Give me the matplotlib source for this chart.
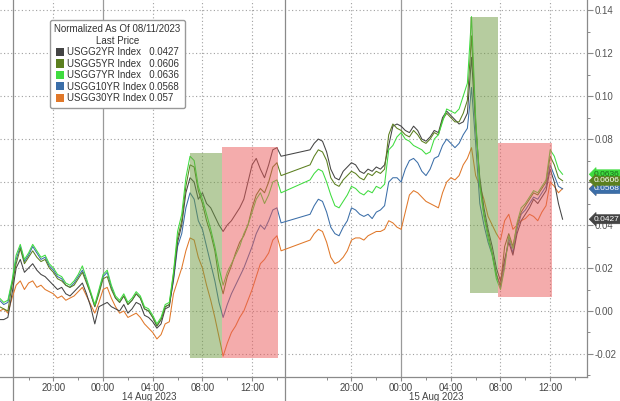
import matplotlib
matplotlib.use("Agg")
import matplotlib.pyplot as plt
import matplotlib.dates as mdates
import matplotlib.transforms as mtransforms
from matplotlib.patches import Patch
from matplotlib.ticker import MultipleLocator, FixedLocator
import pandas as pd

plt.rcParams['font.family'] = ['Liberation Sans', 'DejaVu Sans']

# ---------------- data ----------------
series_names = ["USGG2YR Index", "USGG5YR Index", "USGG7YR Index",
                "USGG10YR Index", "USGG30YR Index"]
last_prices = ["0.0427", "0.0606", "0.0636", "0.0568", "0.057"]
last_values = [0.0427, 0.0606, 0.0636, 0.0568, 0.057]
line_colors = ['#444444', '#5b7f1f', '#3fdc3f', '#3b6ea8', '#e0782a']

# two sessions, 20-minute samples
day1_start, day1_end = "2023-08-13 15:40", "2023-08-14 14:20"
day2_start, day2_end = "2023-08-14 16:40", "2023-08-15 13:00"

# values in thousandths of the normalized change
usgg2_day1 = [-4, -4, -3, 8, 20, 24, 18, 20, 22, 19,
              17, 16, 14, 12, 10, 11, 8, 7, 9, 11,
              13, 8, 2, -6, 2, 3, 4, 2, 1, 0,
              3, -1, 1, 4, 3, -2, -3, -5, -8, -6,
              1, 2, 15, 32, 40, 55, 62, 60, 52, 55,
              50, 48, 44, 40, 37, 40, 42, 45, 48, 52,
              60, 68, 71, 66, 62, 68, 75, 76, 72]
usgg5_day1 = [2, 1, 0, 12, 22, 29, 22, 25, 28, 25,
              23, 24, 20, 18, 15, 14, 12, 11, 12, 15,
              18, 13, 8, 2, 8, 15, 16, 10, 6, 4,
              7, 3, 5, 8, 6, 1, 0, -3, -7, -4,
              2, 3, 17, 34, 42, 58, 68, 67, 56, 50,
              42, 36, 28, 15, 8, 16, 21, 27, 32, 35,
              40, 48, 54, 57, 55, 60, 67, 69, 63]
usgg7_day1 = [6, 4, 5, 14, 26, 31, 24, 27, 31, 28,
              25, 26, 22, 20, 17, 16, 13, 12, 14, 17,
              21, 15, 9, 3, 10, 17, 19, 12, 7, 5,
              8, 4, 6, 9, 7, 2, 1, -2, -6, -3,
              3, 4, 18, 37, 45, 62, 72, 70, 58, 52,
              45, 38, 30, 20, 12, 18, 22, 26, 30, 36,
              40, 46, 52, 55, 50, 54, 60, 61, 55]
usgg10_day1 = [5, 3, 4, 13, 24, 30, 23, 26, 30, 27,
               24, 25, 21, 19, 16, 15, 12, 11, 13, 16,
               19, 14, 8, 2, 9, 16, 18, 11, 6, 4,
               7, 3, 5, 8, 6, 1, 0, -3, -7, -4,
               2, 3, 14, 30, 36, 48, 55, 52, 42, 38,
               30, 22, 14, 4, -3, 3, 8, 12, 16, 20,
               25, 30, 36, 40, 38, 42, 47, 48, 41]
usgg30_day1 = [0, 1, -1, 6, 12, 14, 10, 13, 14, 11,
               12, 10, 9, 8, 6, 7, 5, 6, 7, 9,
               11, 7, 3, -1, 4, 10, 11, 6, 2, -1,
               0, -3, -2, -1, -3, -6, -8, -10, -13, -11,
               -6, -5, 8, 14, 20, 28, 34, 33, 25, 20,
               12, 5, -3, -12, -21, -15, -10, -7, -3, 0,
               5, 10, 16, 22, 24, 27, 33, 35, 28]

usgg2_day2 = [75, 78, 80, 79, 74, 66, 62, 61, 65, 67,
              69, 68, 65, 64, 66, 65, 67, 66, 68, 77,
              86, 87, 86, 84, 83, 86, 84, 80, 79, 81,
              84, 83, 90, 93, 91, 89, 87, 88, 92, 118,
              86, 62, 48, 38, 30, 20, 14, 24, 32, 26,
              36, 42, 45, 48, 52, 50, 53, 56, 66, 60,
              50, 42.7]
usgg5_day2 = [68, 72, 75, 74, 70, 62, 59, 58, 61, 63,
              65, 64, 62, 61, 64, 63, 65, 64, 66, 82,
              87, 85, 84, 82, 81, 84, 82, 79, 78, 80,
              83, 82, 89, 92, 90, 88, 88, 92, 98, 128,
              88, 60, 45, 36, 27, 17, 12, 30, 36, 30,
              40, 46, 49, 52, 55, 54, 57, 60, 72, 68,
              62, 60.6]
usgg7_day2 = [61, 64, 66, 65, 60, 54, 49, 48, 51, 54,
              58, 57, 55, 54, 56, 55, 58, 57, 59, 75,
              77, 81, 83, 80, 79, 77, 76, 75, 73, 74,
              80, 82, 88, 94, 93, 92, 94, 100, 106, 137,
              90, 58, 44, 34, 26, 15, 10, 20, 35, 29,
              41, 48, 50, 53, 56, 55, 58, 61, 75, 72,
              66, 63.6]
usgg10_day2 = [45, 49, 52, 51, 46, 39, 36, 35, 39, 42,
               48, 47, 45, 44, 45, 43, 46, 47, 49, 60,
               62, 62, 60, 66, 70, 71, 69, 65, 63, 66,
               71, 72, 77, 80, 78, 76, 78, 82, 85, 104,
               78, 50, 40, 32, 26, 17, 11, 22, 34, 27,
               38, 45, 47, 50, 53, 52, 55, 58, 68, 63,
               58, 56.8]
usgg30_day2 = [33, 36, 38, 37, 32, 25, 22, 23, 25, 28,
               33, 34, 34, 33, 35, 36, 37, 37, 38, 42,
               41, 39, 38, 46, 54, 56, 55, 53, 51, 50,
               49, 48, 55, 60, 62, 61, 63, 68, 71, 76,
               63, 58, 52, 44, 40, 36, 33, 42, 45, 38,
               40, 42, 43, 45, 44, 42, 46, 49, 60, 58,
               55, 57]

# shaded regions: (start, end, low, high, colour)
bands = [
    ("2023-08-14 07:00", "2023-08-14 09:35", -0.0219, 0.0735, 'green'),
    ("2023-08-14 09:35", "2023-08-14 14:05", -0.0219, 0.0763, 'red'),
    ("2023-08-15 05:33", "2023-08-15 07:48", 0.0084, 0.1370, 'green'),
    ("2023-08-15 07:48", "2023-08-15 12:09", 0.0065, 0.0780, 'red'),
]
band_colors = {'green': '#6f9b41', 'red': '#eb5a5a'}

date_separators = ["2023-08-13 16:45", "2023-08-14 14:40"]
date_labels = ["14 Aug 2023", "15 Aug 2023"]
x_left, x_right = "2023-08-13 15:42", "2023-08-15 14:58"
y_low, y_high = -0.0307, 0.1447

# ---------------- build ----------------
t1 = pd.date_range(day1_start, day1_end, freq="20min")
t2 = pd.date_range(day2_start, day2_end, freq="20min")
times = t1.append(t2)
day1 = [usgg2_day1, usgg5_day1, usgg7_day1, usgg10_day1, usgg30_day1]
day2 = [usgg2_day2, usgg5_day2, usgg7_day2, usgg10_day2, usgg30_day2]
series = [[v / 1000.0 for v in a + b] for a, b in zip(day1, day2)]

fig = plt.figure(figsize=(6.2, 4.01), dpi=100)
ax = fig.add_axes([0.0, 0.0599, 0.9468, 0.9401])

xl = mdates.date2num(pd.Timestamp(x_left))
xr = mdates.date2num(pd.Timestamp(x_right))
ax.set_xlim(xl, xr)
ax.set_ylim(y_low, y_high)

grid_col = '#a0a0a0'
dot = (0, (1, 2.2))

# horizontal grid
for v in [-0.02, 0.0, 0.02, 0.04, 0.06, 0.08, 0.10, 0.12, 0.14]:
    ax.axhline(v, color=grid_col, lw=0.8, ls=dot, zorder=1)

# x ticks
major_hours = [0, 4, 8, 12, 20]
ax.xaxis.set_major_locator(mdates.HourLocator(byhour=major_hours))
ax.xaxis.set_minor_locator(mdates.HourLocator(byhour=[2, 6, 10, 14, 18, 22]))
ax.xaxis.set_major_formatter(mdates.DateFormatter('%H:%M'))
for tk in pd.date_range("2023-08-13 16:00", "2023-08-15 14:00", freq="4h"):
    if tk.hour not in major_hours:
        continue
    if tk.hour == 0:
        ax.axvline(mdates.date2num(tk), color='#9a9a9a', lw=0.9, zorder=1)
    else:
        ax.axvline(mdates.date2num(tk), color=grid_col, lw=0.8, ls=dot, zorder=1)

# date separators (extend below the axis)
sep_nums = [mdates.date2num(pd.Timestamp(s)) for s in date_separators]
for s in sep_nums:
    ax.axvline(s, ymin=-0.07, ymax=1, color='#8a8a8a', lw=0.9, clip_on=False, zorder=1)
trans = mtransforms.blended_transform_factory(ax.transData, ax.transAxes)
bounds = sep_nums + [xr]
for k, lab in enumerate(date_labels):
    ax.text((bounds[k] + bounds[k + 1]) / 2, -0.052, lab, transform=trans,
            ha='center', va='center', fontsize=7, color='#444444')

# lines
tnum = mdates.date2num(times)
order = [4, 3, 0, 1, 2]
for k in order:
    ax.plot(tnum, series[k], color=line_colors[k], lw=0.75, zorder=3)

# bands (semi-transparent, over lines)
for s, e, lo, hi, c in bands:
    ax.fill_between([mdates.date2num(pd.Timestamp(s)), mdates.date2num(pd.Timestamp(e))],
                    lo, hi, color=band_colors[c], alpha=0.5, lw=0, zorder=4)

# axes styling
for sp in ['top', 'left']:
    ax.spines[sp].set_visible(False)
for sp in ['right', 'bottom']:
    ax.spines[sp].set_color('#8a8a8a')
    ax.spines[sp].set_linewidth(0.9)
ax.yaxis.tick_right()
ax.yaxis.set_major_locator(FixedLocator([-0.02, 0.0, 0.02, 0.04, 0.06, 0.08, 0.10, 0.12, 0.14]))
ax.yaxis.set_minor_locator(MultipleLocator(0.01))
ax.yaxis.set_major_formatter(plt.FuncFormatter(lambda v, p: f"{v:.2f}"))
ax.tick_params(axis='y', which='major', length=4, width=0.8, color='#8a8a8a',
               labelsize=7, labelcolor='#555555', pad=1.5)
ax.tick_params(axis='y', which='minor', length=2, width=0.7, color='#8a8a8a')
ax.tick_params(axis='x', which='major', length=3, width=0.8, color='#8a8a8a',
               labelsize=7, labelcolor='#444444', pad=1.5)
ax.tick_params(axis='x', which='minor', length=2, width=0.7, color='#8a8a8a')

# last value tags on the right
tag_order = [4, 2, 3, 1, 0]
tag_text_col = ['white', 'white', '#1a6a1a', 'white', 'white']
ytrans = mtransforms.blended_transform_factory(ax.transAxes, ax.transData)
for k in tag_order:
    ax.text(1.012, last_values[k], last_prices[k], transform=ytrans,
            fontsize=6, color=tag_text_col[k], ha='left', va='center',
            clip_on=False, zorder=6,
            bbox=dict(boxstyle='larrow,pad=0.12', fc=line_colors[k],
                      ec=line_colors[k], lw=0.5))

# legend
handles = [Patch(facecolor=c, edgecolor='none') for c in line_colors]
labels = [f"{n}   {p}" if len(n) < 14 else f"{n} {p}" for n, p in zip(series_names, last_prices)]
leg = ax.legend(handles, labels, title="Normalized As Of 08/11/2023\nLast Price",
                loc='upper left', bbox_to_anchor=(0.085, 0.947), borderaxespad=0,
                fontsize=7, title_fontsize=7, handlelength=0.9, handleheight=0.9,
                handletextpad=0.3, labelspacing=0.15, borderpad=0.45,
                frameon=True, fancybox=True, framealpha=1, edgecolor='#999999')
title = leg.get_title()
title.set_color('#333333')
title.set_multialignment('center')
for txt in leg.get_texts():
    txt.set_color('#333333')
leg.set_zorder(10)

fig.savefig("out.png", dpi=100)
